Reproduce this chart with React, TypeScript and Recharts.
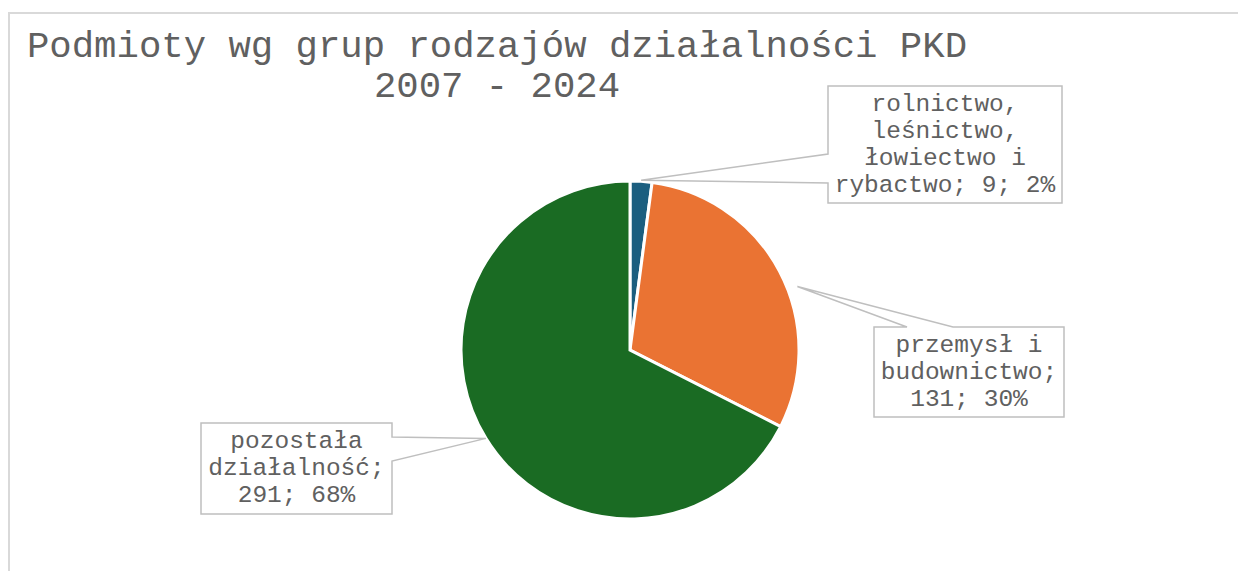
import React from 'react';
import { PieChart, Pie, Cell } from 'recharts';

const titleLines = ['Podmioty wg grup rodzajów działalności PKD', '2007 - 2024'];
const categories = [
    'rolnictwo, leśnictwo, łowiectwo i rybactwo',
    'przemysł i budownictwo',
    'pozostała działalność'
];
const counts = [9, 131, 291];
const colors = ['#1B5E7F', '#EA7333', '#1A6B23'];

const data = categories.map((name, i) => ({ name, value: counts[i] }));

const FONT = "'Liberation Mono', 'Courier New', monospace";
const TEXT = '#606060';
const LINE = '#BFBFBF';
const RADIAN = Math.PI / 180;

// callout boxes, placed relative to the pie centre
const callouts = [
    { dx: 198, dy: -264, w: 234, h: 117, side: 'left', a: 68, b: 97, maxChars: 15, shift: 0, extra: 1 },
    { dx: 244, dy: -23, w: 190, h: 90, side: 'top', a: 33, b: 79, maxChars: 12, shift: -7, extra: 10 },
    { dx: -429, dy: 73, w: 191, h: 91, side: 'right', a: 14, b: 38, maxChars: 12, shift: 0, extra: 0 }
];

const wrap = (text: string, max: number) => {
    const lines: string[] = [];
    let cur = '';
    text.split(' ').forEach((word) => {
        if (!cur) cur = word;
        else if ((cur + ' ' + word).length <= max) cur += ' ' + word;
        else {
            lines.push(cur);
            cur = word;
        }
    });
    if (cur) lines.push(cur);
    return lines;
};

const renderLabel = (props: any) => {
    const { cx, cy, midAngle, outerRadius, index, name, value, percent } = props;
    const c = callouts[index];
    const ang = (midAngle + c.shift) * RADIAN;
    const tx = cx + (outerRadius + c.extra) * Math.cos(-ang);
    const ty = cy + (outerRadius + c.extra) * Math.sin(-ang);
    const x = cx + c.dx;
    const y = cy + c.dy;
    const { w, h, a, b } = c;

    let d = '';
    if (c.side === 'left') {
        d = `M${x},${y} H${x + w} V${y + h} H${x} V${y + b} L${tx},${ty} L${x},${y + a} Z`;
    } else if (c.side === 'top') {
        d = `M${x},${y} H${x + a} L${tx},${ty} L${x + b},${y} H${x + w} V${y + h} H${x} Z`;
    } else {
        d = `M${x},${y} H${x + w} V${y + a} L${tx},${ty} L${x + w},${y + b} V${y + h} H${x} Z`;
    }

    const lines = wrap(`${name}; ${value}; ${Math.round(percent * 100)}%`, c.maxChars);
    const step = 27;

    return (
        <g key={`callout-${index}`}>
            <path d={d} fill="#fff" stroke={LINE} strokeWidth={1.5} />
            <text
                x={x + w / 2}
                textAnchor="middle"
                fill={TEXT}
                fontFamily={FONT}
                fontSize={24.5}
            >
                {lines.map((line, i) => (
                    <tspan
                        key={i}
                        x={x + w / 2}
                        y={y + h / 2 + (i - (lines.length - 1) / 2) * step}
                        dominantBaseline="central"
                    >
                        {line}
                    </tspan>
                ))}
            </text>
        </g>
    );
};

const App = () => {
    return (
        <div
            style={{
                position: 'absolute',
                left: 0,
                top: 0,
                width: 1238,
                height: 571,
                overflow: 'hidden',
                background: '#fff'
            }}
        >
            {/* chart frame, runs off the right and bottom of the page */}
            <div
                style={{
                    position: 'absolute',
                    left: 8,
                    top: 12,
                    width: 1300,
                    height: 620,
                    borderTop: '2px solid #D9D9D9',
                    borderLeft: '2px solid #D9D9D9'
                }}
            />
            {titleLines.map((line, i) => (
                <div
                    key={line}
                    style={{
                        position: 'absolute',
                        left: 497,
                        top: 27 + i * 40,
                        transform: 'translateX(-50%)',
                        fontFamily: FONT,
                        fontSize: 37.3,
                        lineHeight: '40px',
                        color: TEXT,
                        whiteSpace: 'pre'
                    }}
                >
                    {line}
                </div>
            ))}
            <div style={{ position: 'absolute', left: 0, top: 0 }}>
                <PieChart width={1238} height={571} margin={{ top: 0, right: 0, bottom: 0, left: 0 }}>
                    <Pie
                        data={data}
                        dataKey="value"
                        nameKey="name"
                        cx={630}
                        cy={350}
                        outerRadius={169}
                        startAngle={90}
                        endAngle={-270}
                        stroke="#fff"
                        strokeWidth={3}
                        label={renderLabel}
                        labelLine={false}
                        isAnimationActive={false}
                    >
                        {data.map((entry, i) => (
                            <Cell key={entry.name} fill={colors[i]} />
                        ))}
                    </Pie>
                </PieChart>
            </div>
        </div>
    );
};

export default App;
